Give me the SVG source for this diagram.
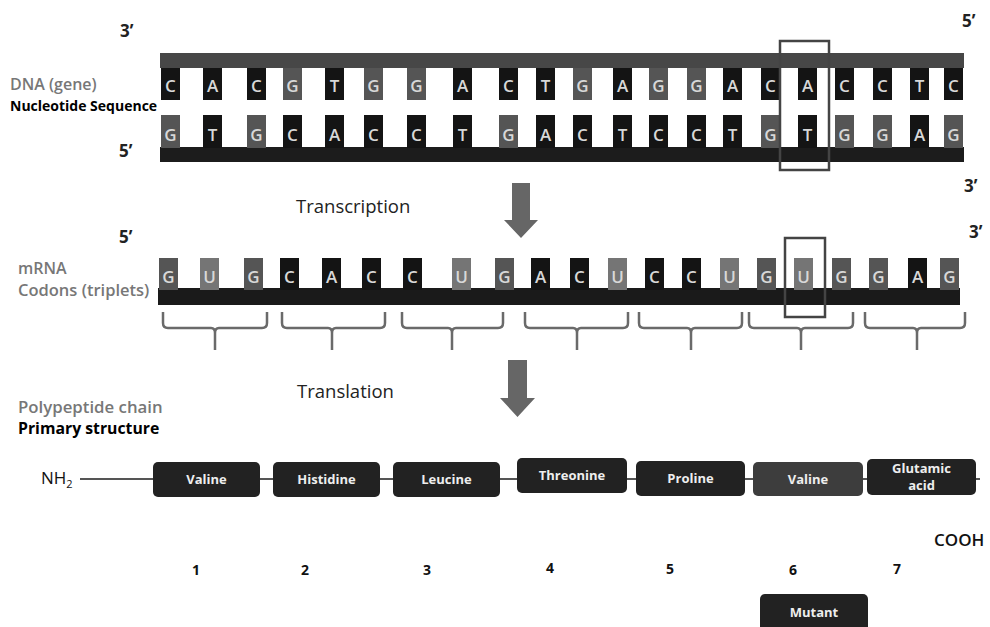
<svg xmlns="http://www.w3.org/2000/svg" width="990" height="627" viewBox="0 0 990 627">
<style>
text{font-family:"Open Sans","Liberation Sans",sans-serif}
.k{fill:#141414}
.g{fill:#555}
.u{fill:#757575}
.nt text{font-size:17px;font-weight:600;fill:#d8d8d8;text-anchor:middle}
.end{font-size:17px;font-weight:bold;fill:#222}
.lblg{font-size:16px;fill:#777;font-weight:600}
.lblb{font-size:14px;fill:#000;font-weight:bold}
.step{font-size:18.5px;fill:#222}
.aa rect{fill:#222}
.aa text{font-size:13px;font-weight:bold;fill:#eee;text-anchor:middle}
.num{font-size:14px;font-weight:bold;fill:#111;text-anchor:middle}
.br{fill:none;stroke:#6a6a6a;stroke-width:2.5;stroke-linejoin:round}
.hl{fill:none;stroke:#444;stroke-width:2.5}
.arr{fill:#666}
</style>

<!-- labels -->
<text class="end" x="120" y="37">3’</text>
<text class="end" x="962" y="27">5’</text>
<text class="end" x="119" y="157">5’</text>
<text class="end" x="964" y="192">3’</text>
<text class="lblg" x="10" y="90">DNA (gene)</text>
<text class="lblb" x="10" y="111">Nucleotide Sequence</text>
<text class="end" x="119" y="243">5’</text>
<text class="end" x="969" y="238">3’</text>
<text class="lblg" x="18" y="274">mRNA</text>
<text class="lblg" x="18" y="296" style="font-size:16.5px">Codons (triplets)</text>
<text class="step" x="296" y="213">Transcription</text>
<text class="step" x="297" y="398">Translation</text>
<text class="lblg" x="18" y="413" style="font-size:16.8px">Polypeptide chain</text>
<text class="lblb" x="18" y="434" style="font-size:15.8px">Primary structure</text>

<!-- DNA -->
<g id="dna">
<rect x="160" y="53" width="804" height="15" fill="#474747"/>
<rect x="160" y="147" width="804" height="15" fill="#1c1c1c"/>
<g class="nt">
<rect class="k" x="161" y="68" width="19" height="32"/><text x="170.5" y="92">C</text>
<rect class="k" x="203" y="68" width="19" height="32"/><text x="212.5" y="92">A</text>
<rect class="k" x="247" y="68" width="19" height="32"/><text x="256.5" y="92">C</text>
<rect class="g" x="283" y="68" width="19" height="32"/><text x="292.5" y="92">G</text>
<rect class="k" x="325" y="68" width="19" height="32"/><text x="334.5" y="92">T</text>
<rect class="g" x="364" y="68" width="19" height="32"/><text x="373.5" y="92">G</text>
<rect class="g" x="407" y="68" width="19" height="32"/><text x="416.5" y="92">G</text>
<rect class="k" x="453" y="68" width="19" height="32"/><text x="462.5" y="92">A</text>
<rect class="k" x="499" y="68" width="19" height="32"/><text x="508.5" y="92">C</text>
<rect class="k" x="536" y="68" width="19" height="32"/><text x="545.5" y="92">T</text>
<rect class="g" x="573" y="68" width="19" height="32"/><text x="582.5" y="92">G</text>
<rect class="k" x="613" y="68" width="19" height="32"/><text x="622.5" y="92">A</text>
<rect class="g" x="649" y="68" width="19" height="32"/><text x="658.5" y="92">G</text>
<rect class="g" x="687" y="68" width="19" height="32"/><text x="696.5" y="92">G</text>
<rect class="k" x="723" y="68" width="19" height="32"/><text x="732.5" y="92">A</text>
<rect class="k" x="761" y="68" width="19" height="32"/><text x="770.5" y="92">C</text>
<rect class="k" x="798" y="68" width="19" height="32"/><text x="807.5" y="92">A</text>
<rect class="k" x="835" y="68" width="19" height="32"/><text x="844.5" y="92">C</text>
<rect class="k" x="873" y="68" width="19" height="32"/><text x="882.5" y="92">C</text>
<rect class="k" x="910" y="68" width="19" height="32"/><text x="919.5" y="92">T</text>
<rect class="k" x="944" y="68" width="19" height="32"/><text x="953.5" y="92">C</text>

<rect class="g" x="161" y="115" width="19" height="33"/><text x="170.5" y="141">G</text>
<rect class="k" x="203" y="115" width="19" height="33"/><text x="212.5" y="141">T</text>
<rect class="g" x="247" y="115" width="19" height="33"/><text x="256.5" y="141">G</text>
<rect class="k" x="283" y="115" width="19" height="33"/><text x="292.5" y="141">C</text>
<rect class="k" x="325" y="115" width="19" height="33"/><text x="334.5" y="141">A</text>
<rect class="k" x="364" y="115" width="19" height="33"/><text x="373.5" y="141">C</text>
<rect class="k" x="407" y="115" width="19" height="33"/><text x="416.5" y="141">C</text>
<rect class="k" x="453" y="115" width="19" height="33"/><text x="462.5" y="141">T</text>
<rect class="g" x="499" y="115" width="19" height="33"/><text x="508.5" y="141">G</text>
<rect class="k" x="536" y="115" width="19" height="33"/><text x="545.5" y="141">A</text>
<rect class="k" x="573" y="115" width="19" height="33"/><text x="582.5" y="141">C</text>
<rect class="k" x="613" y="115" width="19" height="33"/><text x="622.5" y="141">T</text>
<rect class="k" x="649" y="115" width="19" height="33"/><text x="658.5" y="141">C</text>
<rect class="k" x="687" y="115" width="19" height="33"/><text x="696.5" y="141">C</text>
<rect class="k" x="723" y="115" width="19" height="33"/><text x="732.5" y="141">T</text>
<rect class="g" x="761" y="115" width="19" height="33"/><text x="770.5" y="141">G</text>
<rect class="k" x="798" y="115" width="19" height="33"/><text x="807.5" y="141">T</text>
<rect class="g" x="835" y="115" width="19" height="33"/><text x="844.5" y="141">G</text>
<rect class="g" x="873" y="115" width="19" height="33"/><text x="882.5" y="141">G</text>
<rect class="k" x="910" y="115" width="19" height="33"/><text x="919.5" y="141">A</text>
<rect class="g" x="944" y="115" width="19" height="33"/><text x="953.5" y="141">G</text>
</g>
<rect class="hl" x="780" y="41" width="49" height="129"/>
</g>

<!-- mRNA -->
<g id="mrna">
<rect x="158" y="288" width="802" height="17" fill="#1a1a1a"/>
<g class="nt">
<rect class="g" x="159" y="258" width="19" height="32"/><text x="168.5" y="283">G</text>
<rect class="u" x="200" y="258" width="19" height="32"/><text x="209.5" y="283">U</text>
<rect class="g" x="244" y="258" width="19" height="32"/><text x="253.5" y="283">G</text>
<rect class="k" x="280" y="258" width="19" height="32"/><text x="289.5" y="283">C</text>
<rect class="k" x="322" y="258" width="19" height="32"/><text x="331.5" y="283">A</text>
<rect class="k" x="362" y="258" width="19" height="32"/><text x="371.5" y="283">C</text>
<rect class="k" x="403" y="258" width="19" height="32"/><text x="412.5" y="283">C</text>
<rect class="u" x="452" y="258" width="19" height="32"/><text x="461.5" y="283">U</text>
<rect class="g" x="495" y="258" width="19" height="32"/><text x="504.5" y="283">G</text>
<rect class="k" x="531" y="258" width="19" height="32"/><text x="540.5" y="283">A</text>
<rect class="k" x="570" y="258" width="19" height="32"/><text x="579.5" y="283">C</text>
<rect class="u" x="608" y="258" width="19" height="32"/><text x="617.5" y="283">U</text>
<rect class="k" x="645" y="258" width="19" height="32"/><text x="654.5" y="283">C</text>
<rect class="k" x="682" y="258" width="19" height="32"/><text x="691.5" y="283">C</text>
<rect class="u" x="720" y="258" width="19" height="32"/><text x="729.5" y="283">U</text>
<rect class="g" x="757" y="258" width="19" height="32"/><text x="766.5" y="283">G</text>
<rect class="u" x="794" y="258" width="19" height="32"/><text x="803.5" y="283">U</text>
<rect class="g" x="832" y="258" width="19" height="32"/><text x="841.5" y="283">G</text>
<rect class="g" x="869" y="258" width="19" height="32"/><text x="878.5" y="283">G</text>
<rect class="k" x="908" y="258" width="19" height="32"/><text x="917.5" y="283">A</text>
<rect class="g" x="940" y="258" width="19" height="32"/><text x="949.5" y="283">G</text>
</g>
<rect class="hl" x="785" y="238" width="40" height="79"/>
</g>

<!-- codon brackets -->
<g id="codons">
<path class="br" d="M163,312 V323 Q163,328 168,328 H211 Q215,328 215,333 V350 M215,333 Q215,328 219,328 H262 Q267,328 267,323 V312"/>
<path class="br" d="M282,312 V323 Q282,328 287,328 H328 Q332,328 332,333 V350 M332,333 Q332,328 336,328 H380 Q385,328 385,323 V312"/>
<path class="br" d="M402,312 V323 Q402,328 407,328 H448 Q452,328 452,333 V350 M452,333 Q452,328 456,328 H498 Q503,328 503,323 V312"/>
<path class="br" d="M525,312 V323 Q525,328 530,328 H573 Q577,328 577,333 V350 M577,333 Q577,328 581,328 H623 Q628,328 628,323 V312"/>
<path class="br" d="M639,312 V323 Q639,328 644,328 H687 Q691,328 691,333 V350 M691,333 Q691,328 695,328 H737 Q742,328 742,323 V312"/>
<path class="br" d="M749,312 V323 Q749,328 754,328 H797 Q801,328 801,333 V350 M801,333 Q801,328 805,328 H848 Q853,328 853,323 V312"/>
<path class="br" d="M865,312 V323 Q865,328 870,328 H913 Q917,328 917,333 V350 M917,333 Q917,328 921,328 H960 Q965,328 965,323 V312"/>
</g>

<!-- connectors -->
<g id="connectors">
<polygon class="arr" points="512,183 530,183 530,220 538,220 521,238 504,220 512,220"/>
<polygon class="arr" points="508,360 527,360 527,398 535,398 517.5,417 500,398 508,398"/>
<line x1="80" y1="479" x2="980" y2="479" stroke="#555" stroke-width="2"/>
</g>

<text x="41" y="484" style="font-size:17px;fill:#111">NH<tspan dy="4" style="font-size:11px">2</tspan></text>
<text x="934" y="546" style="font-size:17px;font-weight:600;fill:#111">COOH</text>

<!-- amino acids -->
<g id="aa1" class="aa"><rect x="153" y="462" width="107" height="35" rx="5"/><text x="206.5" y="484">Valine</text></g>
<g id="aa2" class="aa"><rect x="273" y="462" width="107" height="35" rx="5"/><text x="326.5" y="484">Histidine</text></g>
<g id="aa3" class="aa"><rect x="393" y="462" width="107" height="35" rx="5"/><text x="446.5" y="484">Leucine</text></g>
<g id="aa4" class="aa"><rect x="517" y="458" width="110" height="35" rx="5"/><text x="572" y="480">Threonine</text></g>
<g id="aa5" class="aa"><rect x="636" y="461" width="109" height="35" rx="5"/><text x="690.5" y="483">Proline</text></g>
<g id="aa6" class="aa"><rect x="753" y="462" width="110" height="34" rx="5" style="fill:#3d3d3d"/><text x="808" y="484">Valine</text></g>
<g id="aa7" class="aa"><rect x="867" y="459" width="109" height="36" rx="5"/><text x="921.5" y="473">Glutamic</text><text x="921.5" y="490">acid</text></g>

<text class="num" x="196" y="575">1</text>
<text class="num" x="305" y="575">2</text>
<text class="num" x="427" y="575">3</text>
<text class="num" x="550" y="573">4</text>
<text class="num" x="670" y="574">5</text>
<text class="num" x="793" y="575">6</text>
<text class="num" x="897" y="574">7</text>

<g id="mutant" class="aa"><rect x="760" y="594" width="108" height="42" rx="5"/><text x="814" y="617">Mutant</text></g>
</svg>
